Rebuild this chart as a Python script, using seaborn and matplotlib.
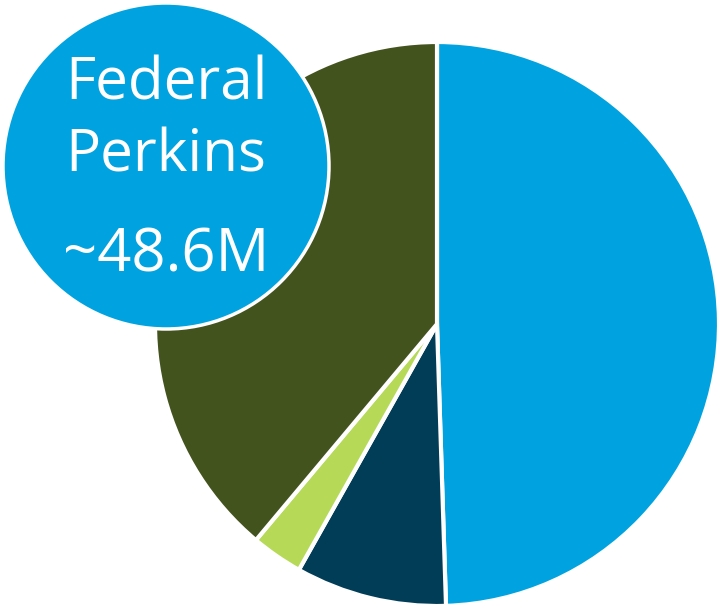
import matplotlib
matplotlib.use("Agg")
import matplotlib.pyplot as plt
from matplotlib.patches import Circle
import seaborn as sns

# Data (millions)
categories = ["Federal Perkins", "Navy segment", "Lime segment", "Olive segment"]
values = [48.6, 8.5, 2.9, 38.2]
colors = ["#00A3E0", "#023D58", "#B6DA58", "#43531E"]
label_lines = ["Federal", "Perkins", "~48.6M"]

sns.set_theme(style="white")
plt.rcParams["font.family"] = ["Open Sans", "DejaVu Sans"]

W, H = 722, 608
fig = plt.figure(figsize=(W / 100, H / 100), dpi=100)
ax = fig.add_axes([0, 0, 1, 1])
ax.set_xlim(0, W)
ax.set_ylim(0, H)
ax.set_aspect("equal")
ax.axis("off")

ax.pie(values, colors=colors, startangle=90, counterclock=False,
       center=(437, H - 324), radius=282,
       wedgeprops=dict(edgecolor="white", linewidth=3))
ax.set_xlim(0, W)
ax.set_ylim(0, H)

circ = Circle((166, H - 166), 163, facecolor="#00A3E0", edgecolor="white",
              linewidth=2.5, zorder=5)
ax.add_patch(circ)

baselines = [99, 171, 271]
sizes = [42, 42, 43]
for txt, b, s in zip(label_lines, baselines, sizes):
    ax.text(166, H - b, txt, color="white", fontsize=s, ha="center",
            va="baseline", zorder=6)

fig.savefig("out.png", dpi=100)
